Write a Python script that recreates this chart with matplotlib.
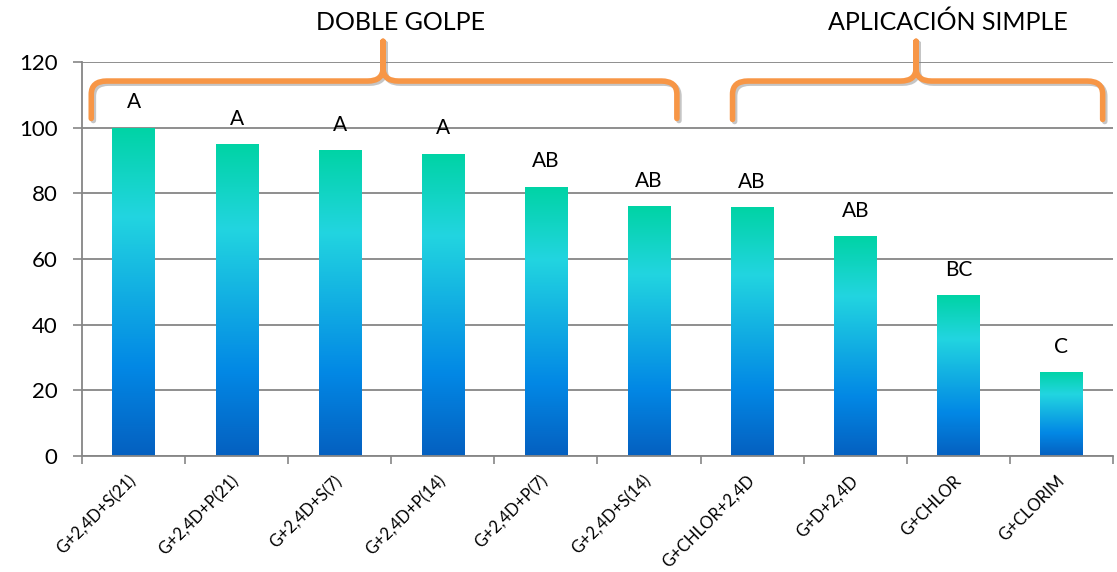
import numpy as np
import matplotlib as mpl
import matplotlib.pyplot as plt
from matplotlib.path import Path
from matplotlib.colors import LinearSegmentedColormap
import matplotlib.patheffects as pe

mpl.rcParams.update({
    "font.family": ["Lato", "DejaVu Sans"],
    "axes.edgecolor": "#868686",
})

categories = ["G+2,4D+S(21)", "G+2,4D+P(21)", "G+2,4D+S(7)", "G+2,4D+P(14)",
              "G+2,4D+P(7)", "G+2,4D+S(14)", "G+CHLOR+2,4D", "G+D+2,4D",
              "G+CHLOR", "G+CLORIM"]
values = [100, 95, 93.2, 92, 82, 76.1, 75.8, 67, 49, 25.6]
letters = ["A", "A", "A", "A", "AB", "AB", "AB", "AB", "BC", "C"]
groups = ["DOBLE GOLPE", "APLICACIÓN SIMPLE"]

# bar fill: dark blue at the base, cyan in the middle, teal at the top
cmap = LinearSegmentedColormap.from_list(
    "bars", [(0.0, "#0560C0"), (0.27, "#0288E5"), (0.73, "#22D5E0"), (1.0, "#00D3A5")])
grad = np.linspace(0, 1, 256).reshape(-1, 1)

fig = plt.figure(figsize=(11.17, 5.72), dpi=100)
ax = fig.add_axes([0.0734, 0.2028, 0.923, 0.6888])

x = np.arange(len(categories))
bars = ax.bar(x, values, width=0.41, color="none", zorder=2)
for b in bars:
    x0, w, h = b.get_x(), b.get_width(), b.get_height()
    im = ax.imshow(grad, cmap=cmap, origin="lower", aspect="auto",
                   extent=(x0, x0 + w, 0, h), zorder=2, interpolation="bilinear")
    im.set_clip_path(b)

for xi, v, t in zip(x, values, letters):
    ax.annotate(t, (xi, v), xytext=(0, 14), textcoords="offset points",
                ha="center", va="baseline", fontsize=15)

ax.set_xlim(-0.5, len(categories) - 0.5)
ax.set_ylim(0, 120)
ax.set_yticks(range(0, 121, 20))
ax.tick_params(axis="y", labelsize=16, length=6.5, width=1.2, color="#868686", pad=11)
ax.yaxis.grid(True, color="#868686", lw=1.3)
ax.set_axisbelow(True)

ax.set_xticks(x)
ax.set_xticklabels(categories, rotation=45, ha="right", va="center",
                   rotation_mode="anchor", fontsize=12)
ax.set_xticks(np.arange(-0.5, len(categories)), minor=True)
ax.tick_params(axis="x", which="major", length=0, pad=16)
ax.tick_params(axis="x", which="minor", length=6, width=1.2, color="#868686")

for s in ["top", "right"]:
    ax.spines[s].set_visible(False)
ax.spines["left"].set_linewidth(1.3)
ax.spines["bottom"].set_linewidth(1.3)


def brace(xa, xb, xm, y_end, y_bar, y_tip, rx=0.15, ry=4.0):
    verts = [(xa, y_end), (xa, y_bar - ry), (xa, y_bar), (xa + rx, y_bar),
             (xm - rx, y_bar), (xm, y_bar), (xm, y_bar + ry), (xm, y_tip),
             (xm, y_bar + ry), (xm, y_bar), (xm + rx, y_bar),
             (xb - rx, y_bar), (xb, y_bar), (xb, y_bar - ry), (xb, y_end)]
    codes = [Path.MOVETO, Path.LINETO, Path.CURVE3, Path.CURVE3,
             Path.LINETO, Path.CURVE3, Path.CURVE3, Path.LINETO,
             Path.LINETO, Path.CURVE3, Path.CURVE3,
             Path.LINETO, Path.CURVE3, Path.CURVE3, Path.LINETO]
    p = mpl.patches.PathPatch(Path(verts, codes), fill=False, ec="#F79646", lw=4,
                              capstyle="round", joinstyle="round", clip_on=False,
                              zorder=5)
    p.set_path_effects([pe.SimpleLineShadow(offset=(1.5, -1.5), shadow_color="gray",
                                            alpha=0.45), pe.Normal()])
    ax.add_patch(p)


brace(-0.41, 5.27, 2.42, 102.8, 114.2, 126.3)
brace(5.81, 9.40, 7.59, 102.5, 114.2, 126.3)

fig.text(401 / 1117, 1 - 22 / 572, groups[0], ha="center", va="center", fontsize=18)
fig.text(948 / 1117, 1 - 22 / 572, groups[1], ha="center", va="center", fontsize=18)

fig.savefig("out.png")
